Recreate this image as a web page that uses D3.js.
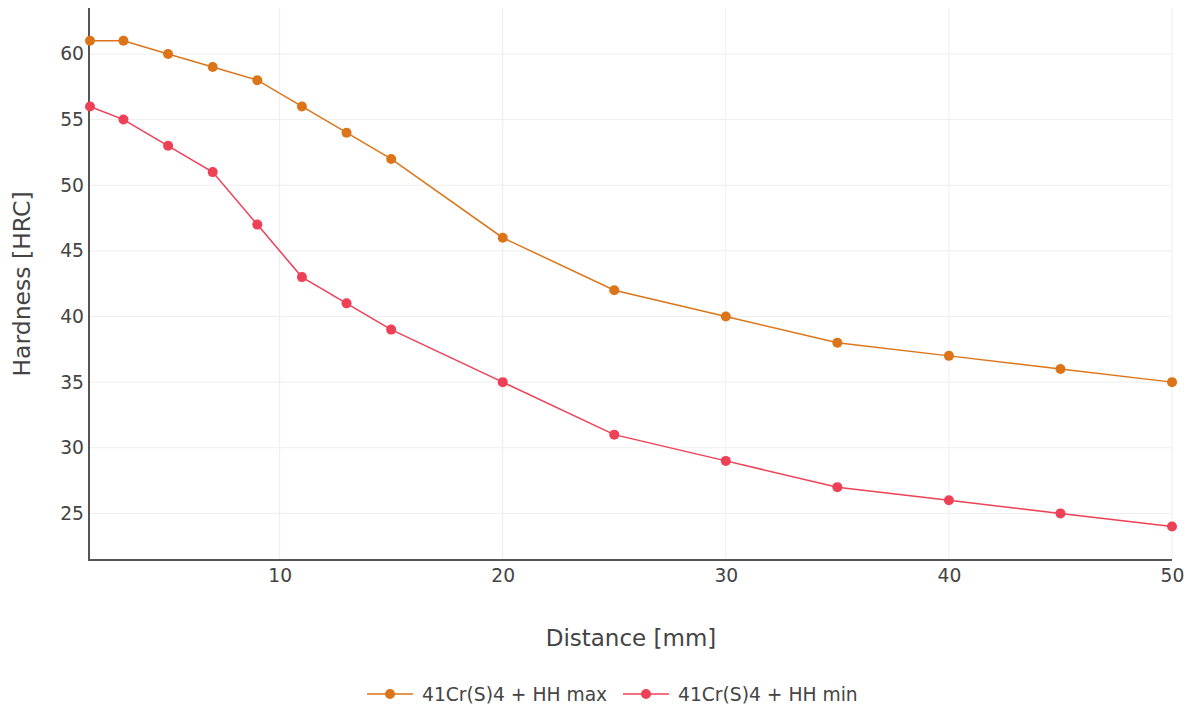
<!DOCTYPE html>
<html>
<head>
<meta charset="utf-8">
<script src="https://cdn.jsdelivr.net/npm/d3@7"></script>
<style>
  html, body { margin: 0; padding: 0; background: #fff; }
  svg { display: block; font-family: "DejaVu Sans", Verdana, sans-serif; }
</style>
</head>
<body>
<svg id="chart" width="1193" height="708"></svg>
<script>
// Jominy end-quench hardness band for 41Cr(S)4
const distances = [1.5, 3, 5, 7, 9, 11, 13, 15, 20, 25, 30, 35, 40, 45, 50];
const hardnessMax = [61, 61, 60, 59, 58, 56, 54, 52, 46, 42, 40, 38, 37, 36, 35];
const hardnessMin = [56, 55, 53, 51, 47, 43, 41, 39, 35, 31, 29, 27, 26, 25, 24];
const xTicks = [10, 20, 30, 40, 50];
const yTicks = [25, 30, 35, 40, 45, 50, 55, 60];
const seriesNames = ["41Cr(S)4 + HH max", "41Cr(S)4 + HH min"];
const seriesColors = ["#dc7519", "#ee4056"];

const FONT = "'DejaVu Sans', Verdana, sans-serif";
const svg = d3.select("#chart");
const margin = { left: 90, right: 21, top: 8, bottom: 148 };
const W = 1193, H = 708;
const x = d3.scaleLinear().domain([1.5, 50]).range([margin.left, W - margin.right]);
const y = d3.scaleLinear().domain([21.45, 63.5]).range([H - margin.bottom, margin.top]);

const textColor = "#444";

// grid
const grid = svg.append("g");
grid.selectAll("line.gx").data(xTicks).join("line")
  .attr("x1", d => x(d)).attr("x2", d => x(d))
  .attr("y1", y.range()[0]).attr("y2", y.range()[1])
  .attr("stroke", "#eee").attr("stroke-width", 1);
grid.selectAll("line.gy").data(yTicks).join("line")
  .attr("y1", d => y(d)).attr("y2", d => y(d))
  .attr("x1", x.range()[0]).attr("x2", x.range()[1])
  .attr("stroke", "#eee").attr("stroke-width", 1);

// axes
const xAxis = svg.append("g")
  .attr("transform", `translate(0,${y.range()[0]})`)
  .call(d3.axisBottom(x).tickValues(xTicks).tickSize(0).tickPadding(9));
const yAxis = svg.append("g")
  .attr("transform", `translate(${x.range()[0] - 1},0)`)
  .call(d3.axisLeft(y).tickValues(yTicks).tickSize(0).tickPadding(5));
[xAxis, yAxis].forEach(a => {
  a.select(".domain").attr("stroke", "#555").attr("stroke-width", 2);
  a.selectAll("text").attr("fill", textColor).attr("font-size", 18.7)
    .attr("font-family", FONT);
});
xAxis.select(".domain").attr("d", `M${x.range()[0] - 2},0H${x.range()[1]}`);
yAxis.select(".domain").attr("d", `M0,${y.range()[0]}V${y.range()[1]}`);

// axis titles
svg.append("text")
  .attr("x", 631).attr("y", 646)
  .attr("text-anchor", "middle").attr("font-size", 23).attr("fill", textColor)
  .text("Distance [mm]");
svg.append("text")
  .attr("transform", `translate(30,${(y.range()[0] + y.range()[1]) / 2}) rotate(-90)`)
  .attr("text-anchor", "middle").attr("font-size", 23.5).attr("fill", textColor)
  .text("Hardness [HRC]");

// series
const series = [hardnessMax, hardnessMin];
const line = d3.line().x((d, i) => x(distances[i])).y(d => y(d));
series.forEach((vals, s) => {
  const g = svg.append("g");
  g.append("path").datum(vals).attr("d", line)
    .attr("fill", "none").attr("stroke", seriesColors[s]).attr("stroke-width", 1.5);
  g.selectAll("circle").data(vals).join("circle")
    .attr("cx", (d, i) => x(distances[i])).attr("cy", d => y(d))
    .attr("r", 5).attr("fill", seriesColors[s]);
});

// legend
const legend = svg.append("g").attr("transform", "translate(367,694)");
const legendOffsets = [0, 256];
seriesNames.forEach((name, s) => {
  const g = legend.append("g").attr("transform", `translate(${legendOffsets[s]},0)`);
  g.append("line").attr("x1", 0).attr("x2", 46).attr("y1", 0).attr("y2", 0)
    .attr("stroke", seriesColors[s]).attr("stroke-width", 1.5);
  g.append("circle").attr("cx", 23).attr("cy", 0).attr("r", 5).attr("fill", seriesColors[s]);
  g.append("text").attr("x", 55).attr("y", 6.5).attr("font-size", 18.7).attr("fill", textColor).text(name);
});
</script>
</body>
</html>
